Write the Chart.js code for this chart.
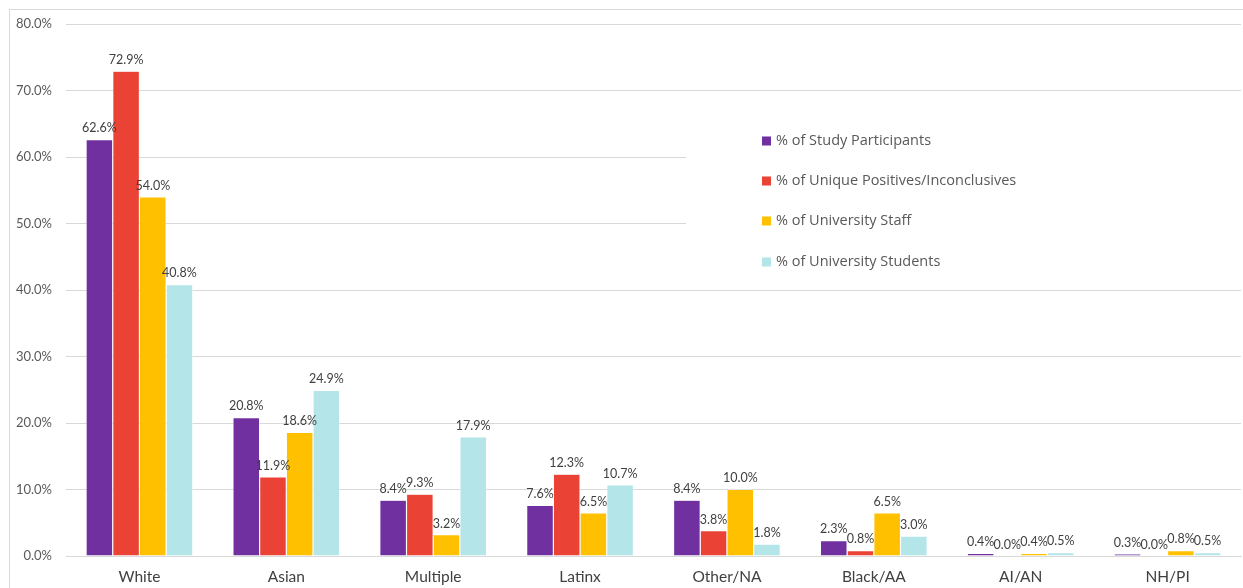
<!DOCTYPE html>
<html>
<head>
<meta charset="utf-8">
<script src="https://cdn.jsdelivr.net/npm/chart.js@4"></script>
<style>
html,body{margin:0;padding:0;background:#fff;}
#wrap{width:1243px;height:588px;position:relative;}
</style>
</head>
<body>
<div id="wrap"><canvas id="c" width="1243" height="588"></canvas></div>
<script>
const categories = ["White","Asian","Multiple","Latinx","Other/NA","Black/AA","AI/AN","NH/PI"];
const seriesNames = ["% of Study Participants","% of Unique Positives/Inconclusives","% of University Staff","% of University Students"];
const studyParticipants = [62.6,20.8,8.4,7.6,8.4,2.3,0.4,0.3];
const uniquePositives   = [72.9,11.9,9.3,12.3,3.8,0.8,0.0,0.0];
const universityStaff   = [54.0,18.6,3.2,6.5,10.0,6.5,0.4,0.8];
const universityStudents= [40.8,24.9,17.9,10.7,1.8,3.0,0.5,0.5];
const yTicks = [0,10,20,30,40,50,60,70,80];

const colors = ["#7030A0","#EA4335","#FFC000","#B4E5E9"];
const FONT = "Lato, 'Open Sans', sans-serif";
const LEGEND_FONT = "'Open Sans', Lato, sans-serif";

const borderPlugin = {
  id:'border',
  beforeDraw(chart){
    const ctx = chart.ctx;
    ctx.save();
    ctx.fillStyle='#fff';
    ctx.fillRect(0,0,chart.width,chart.height);
    ctx.strokeStyle='#D9D9D9';
    ctx.lineWidth=1;
    ctx.strokeRect(9.5,9.5,chart.width+20,chart.height+20);
    ctx.restore();
  }
};

const labelPlugin = {
  id:'labels',
  afterDatasetsDraw(chart){
    const ctx = chart.ctx;
    ctx.save();
    ctx.font = "12.5px " + FONT;
    ctx.fillStyle = '#404040';
    ctx.textAlign='center';
    ctx.textBaseline='bottom';
    chart.data.datasets.forEach((ds,i)=>{
      const meta = chart.getDatasetMeta(i);
      meta.data.forEach((bar,j)=>{
        ctx.fillText(ds.data[j].toFixed(1)+'%', bar.x, bar.y-5);
      });
    });
    // legend
    ctx.fillStyle='#fff';
    ctx.fillRect(686,112,555,170);
    const ys=[141,181,221,262];
    ctx.font = "14.5px " + LEGEND_FONT;
    ctx.textAlign='left';
    ctx.textBaseline='middle';
    chart.data.datasets.forEach((ds,i)=>{
      ctx.fillStyle = ds.backgroundColor;
      ctx.fillRect(762,ys[i]-4.5,9,9);
      ctx.fillStyle='#595959';
      ctx.fillText(ds.label, 776, ys[i]);
    });
    ctx.restore();
  }
};

new Chart(document.getElementById('c'),{
  type:'bar',
  data:{
    labels:categories,
    datasets:[
      {label:seriesNames[0],data:studyParticipants,backgroundColor:colors[0]},
      {label:seriesNames[1],data:uniquePositives,backgroundColor:colors[1]},
      {label:seriesNames[2],data:universityStaff,backgroundColor:colors[2]},
      {label:seriesNames[3],data:universityStudents,backgroundColor:colors[3]}
    ].map(d=>Object.assign(d,{borderColor:'#ffffff',borderWidth:0.6,categoryPercentage:0.727,barPercentage:1.0}))
  },
  options:{
    responsive:false,
    animation:false,
    layout:{padding:{top:24,right:2,left:0,bottom:0}},
    plugins:{legend:{display:false},tooltip:{enabled:false}},
    scales:{
      x:{
        grid:{display:false,drawTicks:false},
        border:{display:true,color:'#D9D9D9',width:1},
        ticks:{color:'#404040',font:{family:FONT,size:15.5},padding:12,maxRotation:0,autoSkip:false},
        afterFit(s){s.height=32;}
      },
      y:{
        min:0,max:80,
        afterBuildTicks(s){s.ticks=yTicks.map(v=>({value:v}));},
        grid:{color:'#D9D9D9',lineWidth:1,drawTicks:false},
        border:{display:false},
        ticks:{color:'#595959',font:{family:FONT,size:13},padding:14,callback:v=>v.toFixed(1)+'%'},
        afterFit(s){s.width=66;}
      }
    }
  },
  plugins:[borderPlugin,labelPlugin]
});
</script>
</body>
</html>
